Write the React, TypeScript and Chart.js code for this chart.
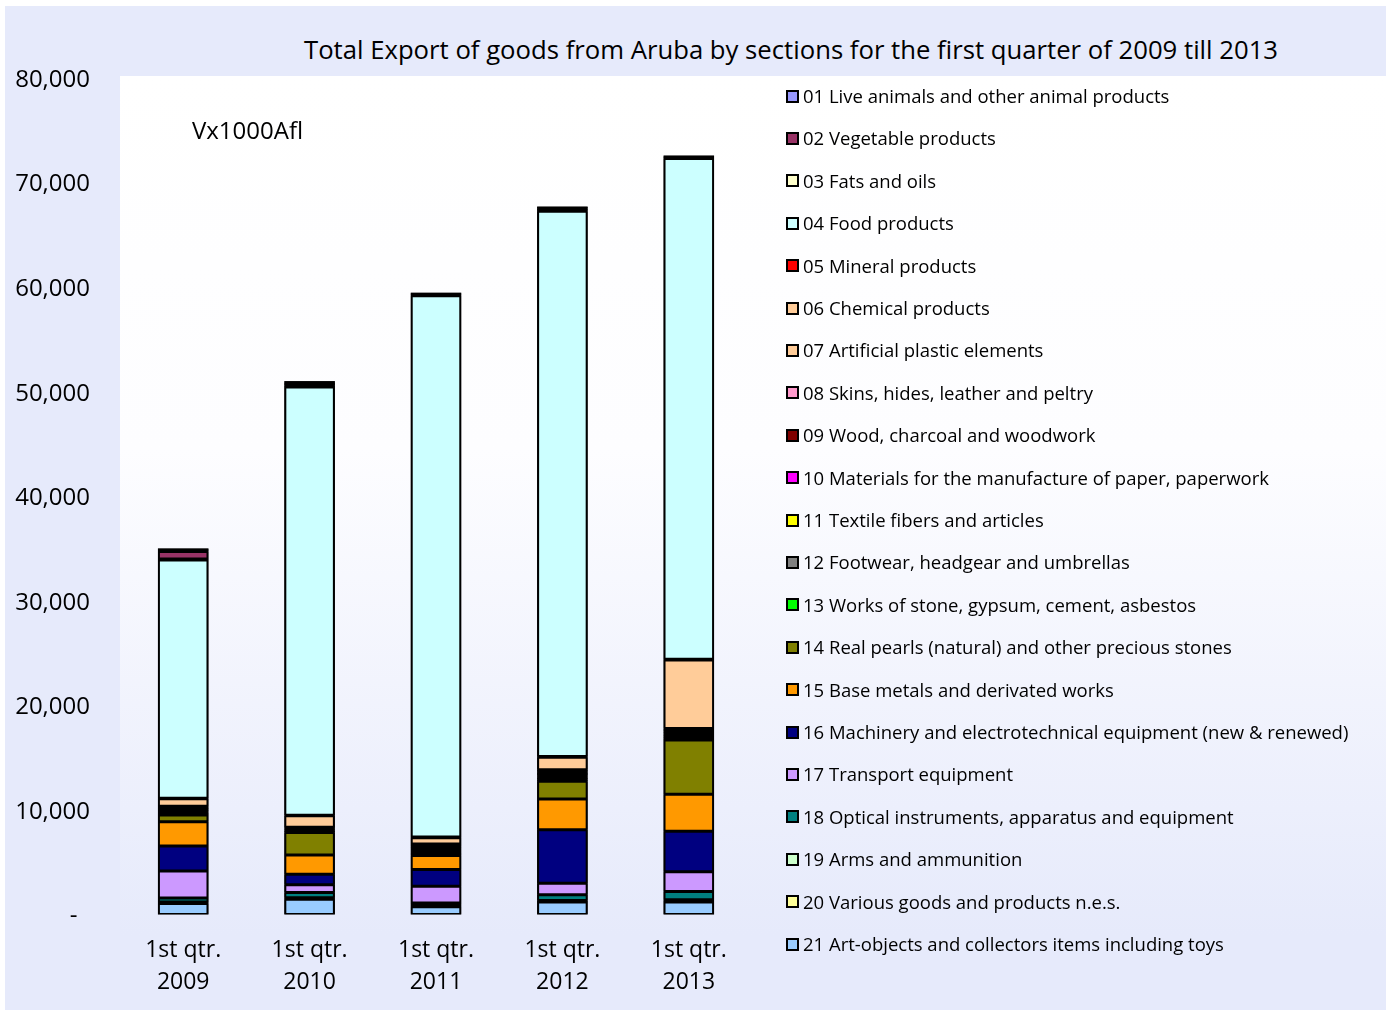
import React, { useEffect, useRef } from "react";
import { Chart, registerables } from "chart.js";

Chart.register(...registerables);

// ---- data ----
const years = ["2009", "2010", "2011", "2012", "2013"];
const quarterLabel = "1st qtr.";
const yMax = 80000;
const yStep = 10000;

const sectionNames = [
  "01 Live animals and other animal products",
  "02 Vegetable products",
  "03 Fats and oils",
  "04 Food products",
  "05 Mineral products",
  "06 Chemical products",
  "07 Artificial plastic elements",
  "08 Skins, hides, leather and peltry",
  "09 Wood, charcoal and woodwork",
  "10 Materials for the manufacture of paper, paperwork",
  "11 Textile fibers and articles",
  "12 Footwear, headgear and umbrellas",
  "13 Works of stone, gypsum, cement, asbestos",
  "14 Real pearls (natural) and other precious stones",
  "15 Base metals and derivated works",
  "16 Machinery and electrotechnical equipment (new & renewed)",
  "17 Transport equipment",
  "18 Optical instruments, apparatus and equipment",
  "19 Arms and ammunition",
  "20 Various goods and products n.e.s.",
  "21 Art-objects and collectors items including toys",
];

const sectionColors = [
  "#9999FF", "#993366", "#FFFFCC", "#CCFFFF", "#FF0000", "#FFCC99", "#FFCC99",
  "#FF99CC", "#800000", "#FF00FF", "#FFFF00", "#808080", "#00FF00", "#808000",
  "#FF9900", "#000080", "#CC99FF", "#008080", "#CCFFCC", "#FFFF99", "#99CCFF",
];

const s01 = [300, 150, 100, 150, 80];
const s02 = [700, 300, 150, 200, 150];
const s03 = [100, 100, 50, 100, 50];
const s04 = [22800, 40960, 51770, 52150, 47900];
const s05 = [50, 50, 50, 50, 50];
const s06 = [700, 1100, 600, 1200, 6550];
const s07 = [150, 100, 100, 150, 150];
const s08 = [150, 50, 150, 150, 150];
const s09 = [150, 100, 200, 250, 200];
const s10 = [50, 50, 50, 100, 100];
const s11 = [100, 50, 100, 100, 150];
const s12 = [150, 100, 150, 200, 200];
const s13 = [100, 50, 100, 150, 150];
const s14 = [650, 2150, 250, 1700, 5200];
const s15 = [2300, 1850, 1350, 2950, 3550];
const s16 = [2400, 1000, 1600, 5100, 3850];
const s17 = [2580, 750, 1600, 1100, 1900];
const s18 = [380, 500, 150, 550, 800];
const s19 = [50, 50, 100, 50, 50];
const s20 = [100, 100, 100, 100, 150];
const s21 = [1050, 1450, 750, 1200, 1200];

const seriesValues = [
  s01, s02, s03, s04, s05, s06, s07, s08, s09, s10, s11,
  s12, s13, s14, s15, s16, s17, s18, s19, s20, s21,
];

const FONT = '"Open Sans", sans-serif';

// paints a black backing behind each stacked column so that the seams between
// segments read as solid outline (as in the original Excel chart)
const stackBacking = {
  id: "stackBacking",
  beforeDatasetsDraw(chart: any) {
    const ctx = chart.ctx;
    const metas = chart.getSortedVisibleDatasetMetas();
    if (!metas.length) return;
    const n = metas[0].data.length;
    ctx.save();
    ctx.fillStyle = "#000000";
    for (let j = 0; j < n; j++) {
      let top = Infinity;
      let bottom = -Infinity;
      let x = 0;
      let w = 0;
      metas.forEach((m: any) => {
        const el = m.data[j];
        if (!el) return;
        const p = el.getProps(["x", "y", "base", "width"], true);
        top = Math.min(top, p.y, p.base);
        bottom = Math.max(bottom, p.y, p.base);
        x = p.x;
        w = p.width;
      });
      ctx.fillRect(x - w / 2, top, w, bottom - top);
    }
    ctx.restore();
  },
};

export default function App() {
  const canvasRef = useRef<HTMLCanvasElement | null>(null);

  useEffect(() => {
    if (!canvasRef.current) return;
    const labels = years.map((y) => [quarterLabel, y]);
    // bottom of stack = section 21, top = section 01
    const datasets = seriesValues
      .map((vals, i) => ({
        label: sectionNames[i],
        data: vals,
        backgroundColor: sectionColors[i],
        borderColor: "#000000",
        borderWidth: { top: 1.5, bottom: 1.5, left: 2, right: 2 },
        borderSkipped: false as const,
        categoryPercentage: 1,
        barPercentage: 0.4,
      }))
      .reverse();

    const chart = new Chart(canvasRef.current, {
      type: "bar",
      data: { labels, datasets },
      plugins: [stackBacking],
      options: {
        responsive: false,
        animation: false,
        devicePixelRatio: 1,
        layout: { padding: { left: 0, right: 634, top: 72, bottom: 0 } },
        plugins: {
          legend: { display: false },
          title: { display: false },
          tooltip: { enabled: false },
        },
        scales: {
          x: {
            stacked: true,
            grid: { display: false, drawTicks: false },
            border: { display: false },
            ticks: {
              color: "#000000",
              font: { family: FONT, size: 23, lineHeight: 32 / 23 },
              padding: 20,
              maxRotation: 0,
              autoSkip: false,
            },
            afterFit: (s: any) => {
              s.height = 95.5;
            },
          },
          y: {
            stacked: true,
            min: 0,
            max: yMax,
            grid: { display: false, drawTicks: false },
            border: { display: false },
            ticks: {
              stepSize: yStep,
              color: "#000000",
              font: { family: FONT, size: 24 },
              padding: 30,
              labelOffset: 2,
              callback: (v: any) =>
                Number(v) === 0 ? "-  " : Number(v).toLocaleString("en-US"),
            },
            afterFit: (s: any) => {
              s.width = 115;
            },
          },
        },
      },
    });
    return () => chart.destroy();
  }, []);

  return (
    <div
      style={{
        position: "absolute",
        left: 5,
        top: 6,
        width: 1381,
        height: 1004,
        background: "#E6EAFB",
        fontFamily: FONT,
        overflow: "hidden",
        color: "#000",
      }}
    >
      <div
        style={{
          position: "absolute",
          left: 115,
          top: 70,
          right: 0,
          bottom: 0,
          background:
            "linear-gradient(to bottom, #FFFFFF 0%, #FDFDFF 40%, #E6EAFB 92%)",
        }}
      />
      <div
        style={{
          position: "absolute",
          left: 186,
          top: 27,
          width: 1200,
          textAlign: "center",
          fontSize: 25.7,
          lineHeight: "34px",
          whiteSpace: "nowrap",
        }}
      >
        Total Export of goods from Aruba by sections for the first quarter of 2009 till 2013
      </div>
      <canvas
        ref={canvasRef}
        width={1381}
        height={1004}
        style={{ position: "absolute", left: 0, top: 0, width: 1381, height: 1004 }}
      />
      <div
        style={{
          position: "absolute",
          left: 187,
          top: 109,
          fontSize: 24,
          lineHeight: "30px",
          whiteSpace: "nowrap",
        }}
      >
        Vx1000Afl
      </div>
      {sectionNames.map((name, i) => (
        <div
          key={name}
          style={{
            position: "absolute",
            left: 781,
            top: 90 + 42.4 * i - 13,
            height: 26,
            display: "flex",
            alignItems: "center",
            whiteSpace: "nowrap",
            fontSize: 18.5,
            lineHeight: "26px",
          }}
        >
          <span
            style={{
              display: "inline-block",
              width: 13,
              height: 13,
              boxSizing: "border-box",
              border: "2px solid #000",
              background: sectionColors[i],
              marginRight: 4,
            }}
          />
          <span>{name}</span>
        </div>
      ))}
    </div>
  );
}
